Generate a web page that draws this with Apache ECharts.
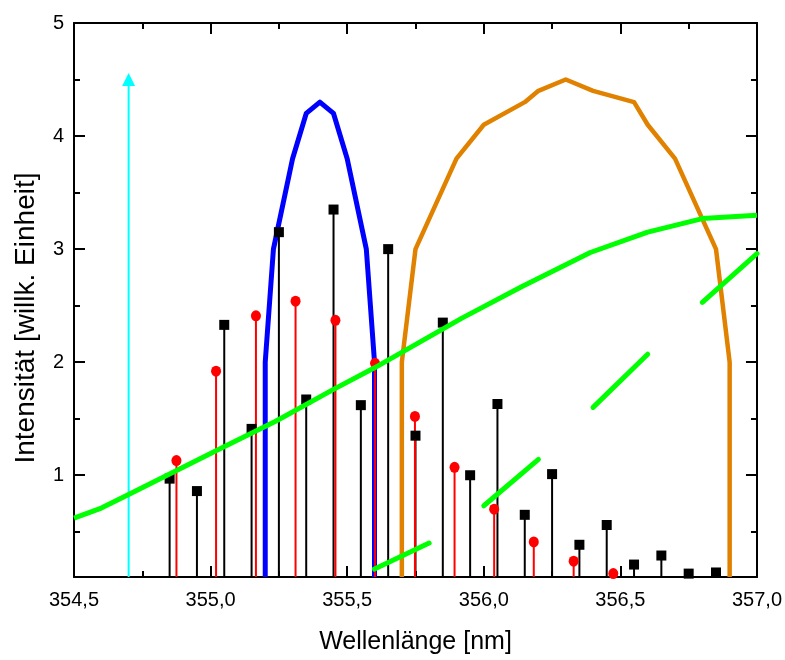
<!DOCTYPE html>
<html><head><meta charset="utf-8">
<script src="https://cdn.jsdelivr.net/npm/echarts@6/dist/echarts.min.js"></script>
<style>html,body{margin:0;padding:0;background:#fff}#c{width:785px;height:660px}</style>
</head><body><div id="c"></div>
<script>
// ---- data ----
const arrowLine = [[354.7, 0.1], [354.7, 4.5]];
const blueCurve = [[355.2,0.1],[355.2,2.0],[355.23,3.0],[355.3,3.8],[355.35,4.2],[355.4,4.3],[355.45,4.2],[355.5,3.8],[355.57,3.0],[355.6,2.0],[355.6,0.1]];
const orangeCurve = [[355.7,0.1],[355.7,2.0],[355.75,3.0],[355.9,3.8],[356.0,4.1],[356.15,4.3],[356.2,4.4],[356.3,4.5],[356.4,4.4],[356.55,4.3],[356.6,4.1],[356.7,3.8],[356.85,3.0],[356.9,2.0],[356.9,0.1]];
const greenCurve = [[354.5,0.62],[354.6,0.71],[354.7,0.83],[355.04,1.24],[355.24,1.48],[355.45,1.76],[355.6,1.95],[355.92,2.39],[356.14,2.67],[356.39,2.97],[356.6,3.15],[356.8,3.27],[357.0,3.30]];
const greenSeg1 = [[355.6,0.17],[355.8,0.40]];
const greenSeg2 = [[356.0,0.73],[356.2,1.14]];
const greenSeg3 = [[356.4,1.6],[356.6,2.07]];
const greenSeg4 = [[356.8,2.53],[357.0,2.96]];
const blackX = [354.85,354.95,355.05,355.15,355.25,355.35,355.45,355.55,355.65,355.75,355.85,355.95,356.05,356.15,356.25,356.35,356.45,356.55,356.65,356.75,356.85];
const blackY = [0.97,0.86,2.33,1.41,3.15,1.67,3.35,1.62,3.00,1.35,2.35,1.00,1.63,0.65,1.01,0.385,0.56,0.21,0.29,0.13,0.14];
const redX = [354.875,355.02,355.166,355.311,355.457,355.602,355.748,355.893,356.038,356.183,356.329,356.474];
const redY = [1.13,1.92,2.41,2.54,2.37,1.99,1.52,1.07,0.70,0.41,0.24,0.13];
const yMajorTicks = [1,2,3,4,5];
const yMinorTicks = [0.5,1.5,2.5,3.5,4.5];

const FONT = '"Liberation Sans", Arial, sans-serif';
const zip = (xs, ys) => xs.map((x, i) => [x, ys[i]]);
const blackPts = zip(blackX, blackY);
const redPts = zip(redX, redY);

const chart = echarts.init(document.getElementById('c'), null, {renderer: 'canvas'});
const axisLineStyle = {color: '#000', width: 2};
const tickStyle = {color: '#000', width: 2};
const baseX = {
  type: 'value', min: 354.5, max: 357.0, interval: 0.5,
  axisLine: {show: true, onZero: false, lineStyle: axisLineStyle},
  axisTick: {show: true, inside: true, length: 11, lineStyle: tickStyle},
  minorTick: {show: true, splitNumber: 2, length: 6, lineStyle: tickStyle},
  splitLine: {show: false}, minorSplitLine: {show: false}
};
const baseY = {
  type: 'value', min: 0.1, max: 5,
  splitLine: {show: false}
};
const greenStyle = {color: '#00FF00', width: 5, cap: 'round'};
function seg(data) {
  return {type: 'line', data: data, symbol: 'none', lineStyle: greenStyle, itemStyle: {color: '#00FF00'}, z: 6};
}
chart.setOption({
  animation: false,
  backgroundColor: '#fff',
  grid: {left: 74, right: 28, top: 23, bottom: 81, containLabel: false},
  xAxis: [
    Object.assign({}, baseX, {
      position: 'bottom',
      axisLabel: {show: true, fontSize: 20, color: '#000', fontFamily: FONT, margin: 13,
        formatter: v => v.toFixed(1).replace('.', ',')},
      name: 'Wellenlänge [nm]', nameLocation: 'middle', nameGap: 53,
      nameTextStyle: {fontSize: 25, color: '#000', fontFamily: FONT}
    }),
    Object.assign({}, baseX, {position: 'top', axisLabel: {show: false}})
  ],
  yAxis: [
    Object.assign({}, baseY, {
      position: 'left',
      axisLine: {show: true, onZero: false, lineStyle: axisLineStyle},
      axisTick: {show: true, inside: true, length: 11, lineStyle: tickStyle, customValues: yMajorTicks},
      axisLabel: {show: true, fontSize: 20, color: '#000', fontFamily: FONT, margin: 10, customValues: yMajorTicks}
    }),
    Object.assign({}, baseY, {
      position: 'left',
      axisLine: {show: false},
      axisTick: {show: true, inside: true, length: 6, lineStyle: tickStyle, customValues: yMinorTicks},
      axisLabel: {show: false}
    }),
    Object.assign({}, baseY, {
      position: 'right',
      axisLine: {show: true, onZero: false, lineStyle: axisLineStyle},
      axisTick: {show: true, inside: true, length: 11, lineStyle: tickStyle, customValues: yMajorTicks},
      axisLabel: {show: false}
    }),
    Object.assign({}, baseY, {
      position: 'right',
      axisLine: {show: false},
      axisTick: {show: true, inside: true, length: 6, lineStyle: tickStyle, customValues: yMinorTicks},
      axisLabel: {show: false}
    })
  ],
  graphic: [{
    type: 'text', x: 26, y: 318, rotation: Math.PI / 2,
    style: {text: 'Intensität [willk. Einheit]', font: '28px "Liberation Sans", Arial, sans-serif',
      fill: '#000', textAlign: 'center', textVerticalAlign: 'middle', align: 'center', verticalAlign: 'middle'}
  }],
  series: [
    {type: 'line', z: 2, symbol: 'triangle', symbolSize: [13, 13],
      data: [{value: arrowLine[0], symbol: 'none'}, {value: arrowLine[1]}],
      lineStyle: {color: '#00FFFF', width: 2}, itemStyle: {color: '#00FFFF'}},
    {type: 'line', z: 2, data: blueCurve, symbol: 'none',
      lineStyle: {color: '#0000FF', width: 5, join: 'round'}},
    {type: 'line', z: 2, data: orangeCurve, symbol: 'none',
      lineStyle: {color: '#E08200', width: 4.5, join: 'round'}},
    {type: 'bar', z: 3, data: blackPts, barWidth: 2, barGap: '-100%', itemStyle: {color: '#000'}},
    {type: 'bar', z: 3, data: redPts, barWidth: 2, barGap: '-100%', itemStyle: {color: '#FF0000'}},
    {type: 'scatter', z: 4, data: blackPts, symbol: 'rect', symbolSize: 10, itemStyle: {color: '#000', opacity: 1}},
    {type: 'scatter', z: 4, data: redPts, symbol: 'circle', symbolSize: [10, 11], itemStyle: {color: '#FF0000', opacity: 1}},
    {type: 'line', z: 6, data: greenCurve, symbol: 'none', lineStyle: {color: '#00FF00', width: 5, join: 'round'}},
    seg(greenSeg1), seg(greenSeg2), seg(greenSeg3), seg(greenSeg4)
  ]
});
</script></body></html>
